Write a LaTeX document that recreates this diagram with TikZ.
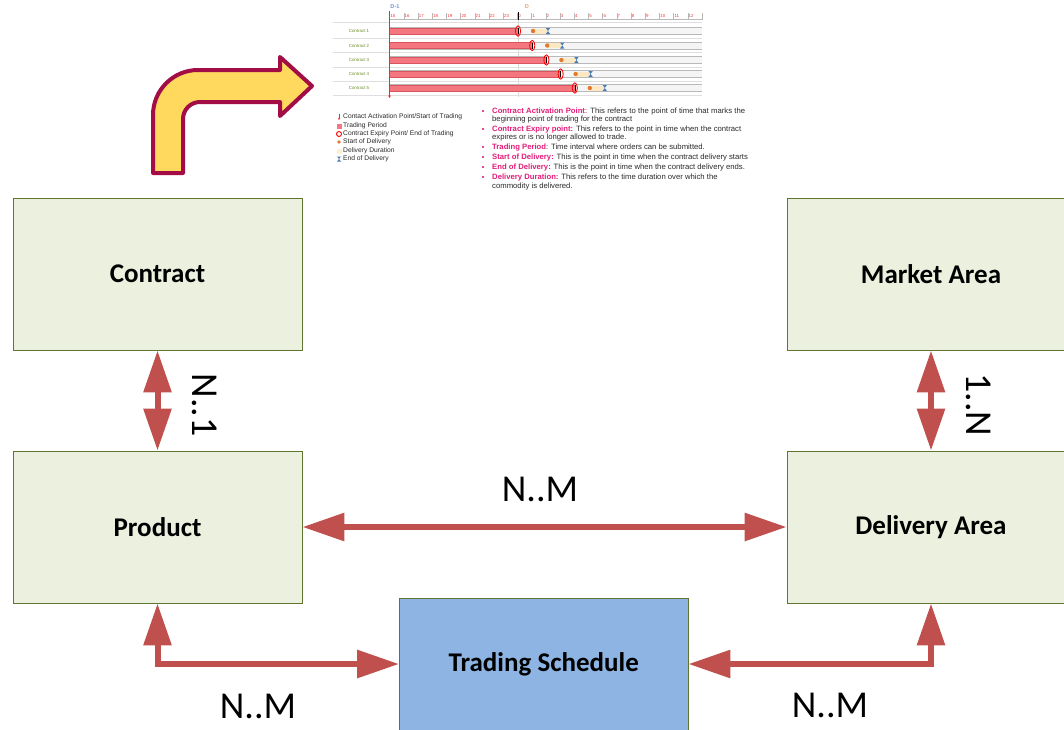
\documentclass[tikz,border=0pt]{standalone}
\usepackage{fontspec}
\setmainfont{Carlito}
\newfontfamily\arialf{Liberation Sans}
\usetikzlibrary{arrows.meta}
\definecolor{boxgreen}{HTML}{EBF1DE}
\definecolor{boxline}{HTML}{5F7530}
\definecolor{boxblue}{HTML}{8DB4E2}
\definecolor{arrowred}{HTML}{C0504D}
\definecolor{yarrow}{HTML}{FFD95E}
\definecolor{yarrowline}{HTML}{A30D45}
\definecolor{redbar}{HTML}{F4777F}
\definecolor{redbarline}{HTML}{D9545C}
\definecolor{yband}{HTML}{FCE8C2}
\definecolor{odot}{HTML}{E07A2E}
\definecolor{bluex}{HTML}{4A7EBB}
\definecolor{termpink}{HTML}{E31C79}
\definecolor{cgreen}{HTML}{6B8E23}
\definecolor{txtgray}{HTML}{2A2A2A}
\newcommand\chartfont{\arialf\fontsize{4.4}{5}\selectfont}
\newcommand\legfont{\arialf\fontsize{6.7}{8}\selectfont}
\newcommand\bulfont{\arialf\fontsize{7.7}{9}\selectfont}
\newcommand\trm[1]{\textcolor{termpink}{\textbf{#1}}}
\tikzset{
  ebox/.style={draw=boxline, fill=boxgreen, line width=0.9pt, minimum width=289pt, minimum height=152pt, inner sep=0pt, font=\bfseries\fontsize{27}{32}\selectfont},
  rel/.style={draw=arrowred, line width=6pt, {Triangle[length=42pt,width=27pt]}-{Triangle[length=42pt,width=27pt]}},
  lbl/.style={font=\fontsize{38}{44}\selectfont, inner sep=0pt},
  leg/.style={font=\legfont, text=txtgray, anchor=west, inner sep=0pt},
  bul/.style={font=\bulfont, text=txtgray, anchor=base west, inner sep=0pt},
}
\begin{document}
\begin{tikzpicture}[x=1pt,y=-1pt]
\path[use as bounding box, clip] (0,0) rectangle (1064,729);
\fill[white] (0,0) rectangle (1064,729);

% ---------- main boxes ----------
\node[ebox] (contract) at (157.5,274) {Contract};
\node[ebox] (product) at (157.5,527) {Product};
\node[ebox, minimum width=288pt] (market) at (931,274) {Market Area};
\node[ebox, minimum width=288pt] (delivery) at (931,527) {Delivery Area};
\node[ebox, fill=boxblue, minimum width=288.5pt, minimum height=132pt] (ts) at (543.75,664) {Trading Schedule};

% ---------- relations ----------
\draw[rel] (contract) -- (product);
\draw[rel] (market) -- (delivery);
\draw[rel] (product) -- (delivery);
\draw[rel] (product.south) |- (ts.west);
\draw[rel] (delivery.south) |- (ts.east);

\node[lbl, rotate=-90] (l1) at (205,405) {N..1};
\node[lbl, rotate=-90] (l2) at (979,405) {1..N};
\node[lbl, anchor=base] (l3) at (540,501) {N..M};
\node[lbl, anchor=base] (l4) at (258,718) {N..M};
\node[lbl, anchor=base] (l5) at (830,717) {N..M};

% ---------- bent yellow arrow ----------
\draw[fill=yarrow, draw=yarrowline, line width=4pt, line join=round]
  (153,173) -- (153,115) arc[start angle=180, end angle=270, radius=45]
  -- (280,70) -- (280,57) -- (312,86) -- (280,116) -- (280,102) -- (200,102)
  arc[start angle=270, end angle=180, radius=17] -- (183,173) -- cycle;

% ---------- inset chart ----------
\node[font=\arialf\bfseries\fontsize{5.6}{6}\selectfont, text=bluex!80, inner sep=0pt] (dm1) at (395,7) {D-1};
\node[font=\arialf\bfseries\fontsize{5.6}{6}\selectfont, text=odot!70, inner sep=0pt] (d0) at (527,7) {D};
\foreach \n [count=\i from 0] in {15,16,17,18,19,20,21,22,23,0,1,2,3,4,5,6,7,8,9,10,11,12}{
  \node[font=\chartfont, text=red!80, anchor=west, inner sep=0pt] (h\i) at ({389.5+14.2*\i+0.8},16.2) {\n};
}
\foreach \i in {0,...,22}{
  \draw[gray!55, line width=0.3pt] ({389.5+14.2*\i},13) -- ++(0,6.5);
}
\draw[gray!55, line width=0.3pt] (389.5,19.5) -- (702,19.5);
\draw[gray!25, line width=0.3pt] (333,22) -- (702,22);
\draw[gray!30, line width=0.4pt] (518,12) -- (518,97);
\draw[black, line width=0.6pt] (518,12) -- (518,19.5);
\foreach \k/\y in {1/31,2/45.5,3/60,4/74,5/88}{
  \pgfmathsetmacro\xe{518+14.2*(\k-1)}
  \draw[gray!25, line width=0.3pt] (333,{\y+7}) -- (702,{\y+7});
  \fill[gray!8] (389.5,{\y-3.5}) rectangle (702,{\y+3.5});
  \draw[gray!55, line width=0.4pt] (389.5,{\y-3.5}) -- (702,{\y-3.5}) (389.5,{\y+3.5}) -- (702,{\y+3.5});
  \draw[fill=redbar, draw=redbarline, line width=0.4pt] (389.5,{\y-3}) rectangle (\xe,{\y+3});
  \draw[black, line width=0.5pt] (\xe,{\y-3}) -- (\xe,{\y+3});
  \draw[red, line width=0.8pt] (\xe,\y) ellipse[x radius=2.6, y radius=5.2];
  \fill[yband] ({\xe+15},{\y-2.5}) rectangle ({\xe+29},{\y+2.5});
  \fill[odot] ({\xe+15},\y) circle[radius=2.2];
  \fill[bluex] ({\xe+27.8},{\y-3}) -- ({\xe+32.2},{\y-3}) -- ({\xe+27.8},{\y+3}) -- ({\xe+32.2},{\y+3}) -- cycle;
  \node[font=\chartfont, text=cgreen, inner sep=0pt] (c\k) at (359,\y) {Contract \k};
}
\draw[red!85, line width=0.8pt, -{Stealth[length=2.5pt,width=2.5pt]}] (389.5,11) -- (389.5,98);

% ---------- legend ----------
\draw[red!85, line width=0.7pt, -{Stealth[length=2pt,width=2.2pt]}] (339,113.5) -- (339,120);
\fill[redbar] (336.5,123.5) rectangle (341.5,128.5);
\draw[red, line width=0.9pt] (339,134) circle[radius=2.5];
\fill[odot] (339,142) circle[radius=1.9];
\fill[yband!70] (336.5,148.5) rectangle (341.5,153.5);
\fill[bluex] (337,156.5) -- (341,156.5) -- (337,161.5) -- (341,161.5) -- cycle;
\node[leg] (g1) at (343,117) {Contact Activation Point/Start of Trading};
\node[leg] (g2) at (343,126) {Trading Period};
\node[leg] (g3) at (343,134) {Contract Expiry Point/ End of Trading};
\node[leg] (g4) at (343,142) {Start of Delivery};
\node[leg] (g5) at (343,151) {Delivery Duration};
\node[leg] (g6) at (343,159) {End of Delivery};

% ---------- definitions ----------
\foreach \y in {111,129,147,157,167,177}{
  \fill[termpink!80] (481.5,{\y-1.2}) rectangle (483.5,{\y+0.8});
}
\node[bul] (b1) at (492,113.8) {\makebox[253pt][s]{\trm{Contract Activation Point}: This refers to the point of time that marks the}};
\node[bul] (b2) at (492,121.8) {beginning point of trading for the contract};
\node[bul] (b3) at (492,131.8) {\makebox[249pt][s]{\trm{Contract Expiry point:} This refers to the point in time when the contract}};
\node[bul] (b4) at (492,139.8) {expires or is no longer allowed to trade.};
\node[bul] (b5) at (492,149.8) {\trm{Trading Period}: Time interval where orders can be submitted.};
\node[bul] (b6) at (492,159.8) {\trm{Start of Delivery:} This is the point in time when the contract delivery starts};
\node[bul] (b7) at (492,169.8) {\trm{End of Delivery:} This is the point in time when the contract delivery ends.};
\node[bul] (b8) at (492,179.8) {\trm{Delivery Duration:} This refers to the time duration over which the};
\node[bul] (b9) at (492,188.8) {commodity is delivered.};
\end{tikzpicture}
\end{document}
